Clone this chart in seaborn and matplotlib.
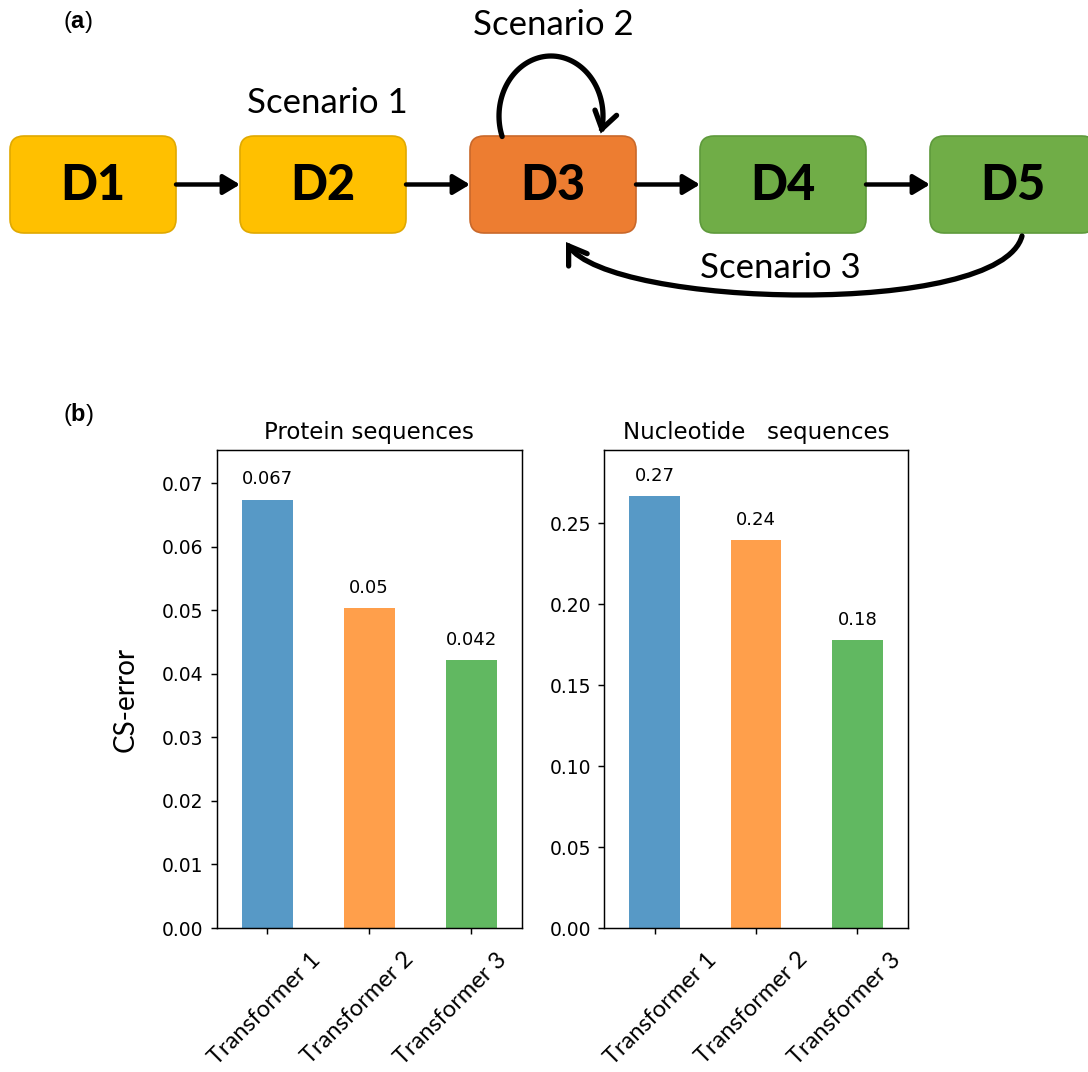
import numpy as np
import pandas as pd
import matplotlib
matplotlib.use("Agg")
import matplotlib.pyplot as plt
import seaborn as sns
from matplotlib.patches import FancyBboxPatch, FancyArrowPatch
from matplotlib.path import Path
from matplotlib.transforms import ScaledTranslation

# ---- data -------------------------------------------------------------
models = ["Transformer 1", "Transformer 2", "Transformer 3"]
protein_error = [0.0674, 0.0503, 0.0421]
nucleotide_error = [0.267, 0.2395, 0.178]
protein_ticks = [0.00, 0.01, 0.02, 0.03, 0.04, 0.05, 0.06, 0.07]
nucleotide_ticks = [0.00, 0.05, 0.10, 0.15, 0.20, 0.25]
panel_titles = ["Protein sequences", "Nucleotide   sequences"]
label_digits = [3, 2]

stages = ["D1", "D2", "D3", "D4", "D5"]
stage_colors = ["#FFC000", "#FFC000", "#ED7D31", "#70AD47", "#70AD47"]
stage_edges = ["#E0A900", "#E0A900", "#C9682A", "#5E9A3B", "#5E9A3B"]
scenarios = ["Scenario 1", "Scenario 2", "Scenario 3"]

# ---- styling ----------------------------------------------------------
plt.rcParams["mathtext.fontset"] = "custom"
plt.rcParams["mathtext.rm"] = "Liberation Sans"
plt.rcParams["mathtext.bf"] = "Liberation Sans:bold"
LABEL_FONT = "Lato"

W, H = 1088, 1072
fig = plt.figure(figsize=(W / 100, H / 100), dpi=100)

# overlay canvas in pixel units for the flow diagram
dax = fig.add_axes([0, 0, 1, 1], zorder=0)
dax.set_xlim(0, W)
dax.set_ylim(H, 0)
dax.axis("off")

# ---- (a) flow diagram -------------------------------------------------
box_w, box_h, step, left0, top0 = 166, 97, 230, 10, 136
yc = top0 + box_h / 2
for i, (name, fc, ec) in enumerate(zip(stages, stage_colors, stage_edges)):
    x0 = left0 + i * step
    dax.add_patch(FancyBboxPatch((x0, top0), box_w, box_h,
                                 boxstyle="round,pad=0,rounding_size=14",
                                 fc=fc, ec=ec, lw=1.2))
    dax.text(x0 + box_w / 2, yc + 1, name, ha="center", va="center",
             fontsize=35, fontweight="black", family=LABEL_FONT, color="black")
    if i < len(stages) - 1:
        dax.add_patch(FancyArrowPatch((x0 + box_w, yc), (x0 + step, yc),
                                      arrowstyle="-|>,head_length=0.5,head_width=0.3",
                                      mutation_scale=20, lw=3.2, color="black",
                                      shrinkA=0, shrinkB=0))

arrow_kw = dict(arrowstyle="->,head_length=0.6,head_width=0.4",
                mutation_scale=20, lw=3.8, color="black", fill=False,
                capstyle="round", joinstyle="miter")

# self loop above D3
x3 = left0 + 2 * step
t = np.radians(np.linspace(200, -17, 80))
cx, cy, rx, ry = x3 + 81, 116, 52, 60
loop = np.column_stack([cx + rx * np.cos(t), cy - ry * np.sin(t)])
dax.add_patch(FancyArrowPatch(path=Path(loop), **arrow_kw))

# return path from D5 back to D3
x5 = left0 + 4 * step
ret = Path([(x5 + 92, top0 + box_h + 3), (x5 + 70, 318), (x3 + 140, 308),
            (x3 + 96, top0 + box_h + 9)],
           [Path.MOVETO, Path.CURVE4, Path.CURVE4, Path.CURVE4])
dax.add_patch(FancyArrowPatch(path=ret, **arrow_kw))

scen_pos = [(327, 103), (553, 25), (780, 268)]
for s, (sx, sy) in zip(scenarios, scen_pos):
    dax.text(sx, sy, s, ha="center", va="center", fontsize=25, family=LABEL_FONT)

for tag, ty in [("a", 22), ("b", 415)]:
    dax.text(78, ty, "($\\mathbf{%s}$)" % tag, ha="center", va="center",
             fontsize=17, family="Liberation Sans")

# ---- (b) bar charts ---------------------------------------------------
palette = sns.color_palette("tab10", 3)
ax_rects = [[216.5 / W, 1 - 928 / H, 305.5 / W, 478 / H],
            [604 / W, 1 - 928 / H, 304 / W, 478 / H]]
series = [protein_error, nucleotide_error]
ticks = [protein_ticks, nucleotide_ticks]
ylims = [0.0752, 0.2953]
label_dx = [[42, 33, 25], [51, 41, 32]]

for k in range(2):
    ax = fig.add_axes(ax_rects[k], zorder=1)
    df = pd.DataFrame({"model": models, "error": series[k]})
    sns.barplot(data=df, x="model", y="error", hue="model", palette=palette,
                saturation=1, alpha=0.75, width=0.5, legend=False, ax=ax)
    for cont, v in zip(ax.containers, series[k]):
        ax.bar_label(cont, labels=[f"{round(v, label_digits[k]):g}"],
                     padding=8, fontsize=13)
    ax.set_xlim(-0.5, 2.5)
    ax.set_ylim(0, ylims[k])
    ax.set_yticks(ticks[k])
    ax.set_yticklabels([f"{v:.2f}" for v in ticks[k]])
    ax.set_xlabel("")
    ax.set_ylabel("")
    ax.set_title(panel_titles[k], fontsize=16.5, pad=8)
    ax.tick_params(axis="both", labelsize=13.5, length=4.6, width=1.05, pad=4.6)
    for sp in ax.spines.values():
        sp.set_linewidth(1.05)
    ax.set_xticks(range(len(models)))
    ax.set_xticklabels(models, rotation=45, ha="right", va="top",
                       rotation_mode="anchor", family=LABEL_FONT, fontsize=17)
    for lbl, dx in zip(ax.get_xticklabels(), label_dx[k]):
        lbl.set_transform(lbl.get_transform() +
                          ScaledTranslation(dx / 100, -8 / 100, fig.dpi_scale_trans))

fig.text(126 / W, 1 - 699 / H, "CS-error", rotation=90, ha="center", va="center",
         fontsize=20, family=LABEL_FONT)

fig.savefig("out.png", dpi=100)
